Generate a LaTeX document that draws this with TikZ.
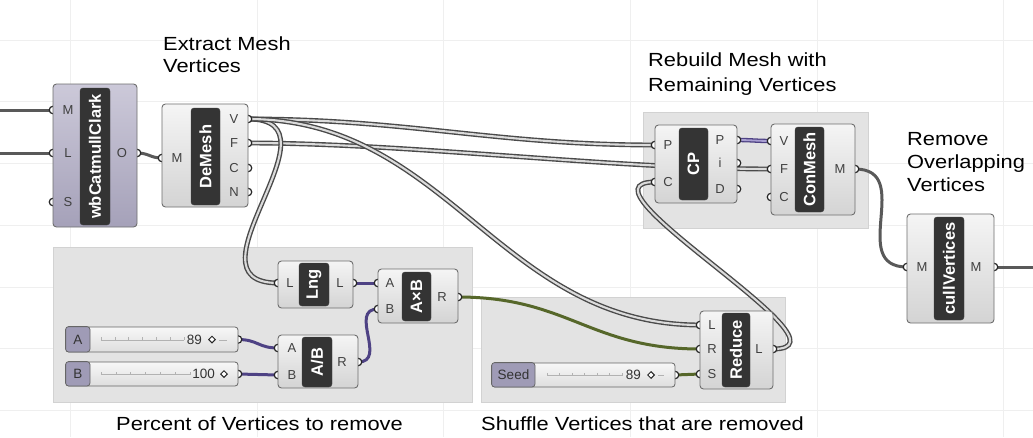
\documentclass[tikz,border=0pt]{standalone}
\usepackage{fontspec}
\setmainfont{Liberation Sans}
\usetikzlibrary{shapes.geometric}
\pgfdeclarelayer{bg}
\pgfdeclarelayer{wires}
\pgfdeclarelayer{ports}
\pgfsetlayers{bg,wires,ports,main}
\definecolor{grpfill}{HTML}{E3E3E3}
\definecolor{grpline}{HTML}{D2D2D2}
\definecolor{gridc}{HTML}{EFEFEF}
\definecolor{barfill}{HTML}{343434}
\definecolor{boxline}{HTML}{6E6E6E}
\definecolor{wbtop}{HTML}{CCC9D9}
\definecolor{wbbot}{HTML}{A5A1B9}
\definecolor{tagc}{HTML}{9F9BB6}
\definecolor{purp}{HTML}{4E4284}
\definecolor{purpl}{HTML}{A99FD2}
\definecolor{olive}{HTML}{56672A}
\definecolor{wiredk}{HTML}{4A4A4A}
\begin{document}
\begin{tikzpicture}[x=1pt,y=-1pt,
  comp/.style={draw=boxline, line width=0.9pt, rounded corners=3.5pt, top color=white!96!black, bottom color=black!17, inner sep=0pt},
  wbcomp/.style={comp, top color=wbtop, bottom color=wbbot},
  bar/.style={fill=barfill, draw=black!75, rounded corners=3pt, inner sep=0pt, text=white, font=\fontsize{16.5}{16.5}\selectfont\bfseries, rotate=90},
  plab/.style={font=\fontsize{13}{13}\selectfont, text=black!75, inner sep=0pt},
  port/.style={circle, draw=black!85, fill=white, line width=1.2pt, inner sep=0pt, minimum size=7.5pt},
  wire/.style={draw=wiredk, double=black!14, line width=1.4pt, double distance=2.1pt},
  pwire/.style={draw=purp, double=purpl, line width=1.3pt, double distance=1.8pt},
  swire/.style={draw=black!65, line width=3pt},
  pswire/.style={draw=purp, line width=3pt},
  gwire/.style={draw=olive, line width=3pt},
  group/.style={fill=grpfill, draw=grpline, line width=0.6pt, inner sep=0pt},
  title/.style={font=\fontsize{19}{22}\selectfont, text=black, inner sep=0pt, anchor=base west},
  slider/.style={draw=black!60, line width=0.8pt, rounded corners=3pt, top color=white!97!black, bottom color=black!13, inner sep=0pt},
  tag/.style={fill=tagc, draw=black!60, line width=0.8pt, rounded corners=3pt},
  stext/.style={font=\fontsize{13.5}{13.5}\selectfont, text=black!80, inner sep=0pt},
  tick/.style={draw=black!30, line width=0.5pt},
  diam/.style={diamond, draw=black!85, line width=1pt, fill=white, inner sep=0pt, minimum size=7pt},
  gridline/.style={draw=gridc, line width=1pt}]

\useasboundingbox (0,0) rectangle (1033,437);

% ---------- background, grid, groups
\begin{pgfonlayer}{bg}
\fill[white] (0,0) rectangle (1033,437);
\foreach \gx in {70,257,443,630,817,1003} \draw[gridline] (\gx,0) -- (\gx,437);
\foreach \gy in {40,101,163,225,287,348,410} \draw[gridline] (0,\gy) -- (1033,\gy);
\node[group, minimum width=419pt, minimum height=155pt] (grpL) at (262.5,324.5) {};
\node[group, minimum width=304pt, minimum height=105pt] (grpS) at (633,349.5) {};
\node[group, minimum width=225pt, minimum height=116pt] (grpCP) at (755.5,170) {};
\end{pgfonlayer}

% ---------- titles
\node[title] (t1a) at (163,50) {\scalebox{1.15}[1]{Extract Mesh}};
\node[title] (t1b) at (163,72) {\scalebox{1.15}[1]{Vertices}};
\node[title] (t2a) at (648,66.5) {\scalebox{1.15}[1]{Rebuild Mesh with}};
\node[title] (t2b) at (648,91.5) {\scalebox{1.15}[1]{Remaining Vertices}};
\node[title] (t3a) at (907,145) {\scalebox{1.15}[1]{Remove}};
\node[title] (t3b) at (907,168) {\scalebox{1.15}[1]{Overlapping}};
\node[title] (t3c) at (907,191) {\scalebox{1.15}[1]{Vertices}};
\node[title] (t4) at (116,430) {\scalebox{1.15}[1]{Percent of Vertices to remove}};
\node[title] (t5) at (481,430) {\scalebox{1.15}[1]{Shuffle Vertices that are removed}};

% ---------- wbCatmullClark
\node[wbcomp, minimum width=84pt, minimum height=143pt] (wb) at (95,155.5) {};
\node[bar, minimum width=137pt, minimum height=30pt] (wbbar) at (95,156.5) {wbCatmullClark};
\node[plab] at (68,110) {M};
\node[plab] at (68,153) {L};
\node[plab] at (68,202) {S};
\node[plab] at (122,153) {O};

% ---------- DeMesh
\node[comp, minimum width=86pt, minimum height=103pt] (de) at (205,155.5) {};
\node[bar, minimum width=97pt, minimum height=29pt] (debar) at (205.5,156.5) {DeMesh};
\node[plab] at (177,158) {M};
\node[plab] at (234,119) {V};
\node[plab] at (234,143) {F};
\node[plab] at (234,168) {C};
\node[plab] at (234,192) {N};

% ---------- CP
\node[comp, minimum width=82pt, minimum height=78pt] (cp) at (696,164) {};
\node[bar, minimum width=72pt, minimum height=29pt] (cpbar) at (693.5,164) {CP};
\node[plab] at (668,145) {P};
\node[plab] at (668,182) {C};
\node[plab] at (720,140) {P};
\node[plab] at (720,163) {i};
\node[plab] at (720,189) {D};

% ---------- ConMesh
\node[comp, minimum width=84pt, minimum height=91pt] (cm) at (813,169.5) {};
\node[bar, minimum width=85pt, minimum height=29pt] (cmbar) at (809.5,169.5) {ConMesh};
\node[plab] at (784,141) {V};
\node[plab] at (784,169) {F};
\node[plab] at (784,197) {C};
\node[plab] at (840,169) {M};

% ---------- cullVertices
\node[comp, minimum width=87pt, minimum height=109pt] (cu) at (950.5,268.5) {};
\node[bar, minimum width=103pt, minimum height=30pt] (cubar) at (949,268.5) {cullVertices};
\node[plab] at (922,267) {M};
\node[plab] at (976,267) {M};

% ---------- Lng
\node[comp, minimum width=75pt, minimum height=47pt] (lng) at (315.5,284.5) {};
\node[bar, minimum width=43pt, minimum height=30pt] (lngbar) at (314,284.5) {Lng};
\node[plab] at (290,283) {L};
\node[plab] at (340,283) {L};

% ---------- AxB
\node[comp, minimum width=80pt, minimum height=54pt] (axb) at (418,296) {};
\node[bar, minimum width=49pt, minimum height=29pt] (axbbar) at (416.5,296.5) {A×B};
\node[plab] at (390,283) {A};
\node[plab] at (390,309) {B};
\node[plab] at (442,297) {R};

% ---------- A/B
\node[comp, minimum width=80pt, minimum height=53pt] (ab) at (318,361.5) {};
\node[bar, minimum width=50pt, minimum height=30pt] (abbar) at (317,362) {A/B};
\node[plab] at (292,348) {A};
\node[plab] at (292,375) {B};
\node[plab] at (342,362) {R};

% ---------- Reduce
\node[comp, minimum width=73pt, minimum height=78pt] (red) at (736.5,350) {};
\node[bar, minimum width=74pt, minimum height=28pt] (redbar) at (736,350) {Reduce};
\node[plab] at (712,325) {L};
\node[plab] at (712,349) {R};
\node[plab] at (712,374) {S};
\node[plab] at (759,349) {L};

% ---------- sliders
\node[slider, minimum width=172pt, minimum height=25pt] (sldA) at (152,339.5) {};
\path[tag] (sldA.north west) rectangle (90,352);
\node[stext] at (78,339.5) {A};
\draw[tick] (101,340) -- (184,340);
\foreach \t in {0,...,6} \draw[tick] (101+\t*13.8,340) -- ++(0,-3);
\node[stext, anchor=east] at (202,339.5) {89};
\node[diam] at (212,339.5) {};
\draw[tick] (219,340) -- (227,340);

\node[slider, minimum width=172pt, minimum height=24pt] (sldB) at (152,374) {};
\path[tag] (sldB.north west) rectangle (90,386);
\node[stext] at (78,374) {B};
\draw[tick] (101,374.5) -- (190,374.5);
\foreach \t in {0,...,6} \draw[tick] (101+\t*14.8,374.5) -- ++(0,-3);
\node[stext, anchor=east] at (215,374) {100};
\node[diam] at (224,374) {};

\node[slider, minimum width=183pt, minimum height=24pt] (sldS) at (583.5,375) {};
\path[tag] (sldS.north west) rectangle (535,387);
\node[stext] at (513.5,375) {Seed};
\draw[tick] (547,375.5) -- (622,375.5);
\foreach \t in {0,...,6} \draw[tick] (547+\t*12.5,375.5) -- ++(0,-3);
\node[stext, anchor=east] at (641,375) {89};
\node[diam] at (651,375) {};
\draw[tick] (658,375.5) -- (664,375.5);

% ---------- ports
\begin{pgfonlayer}{ports}
\node[port] (wbM) at (53,110) {};
\node[port] (wbL) at (53,153) {};
\node[port] (wbS) at (53,202) {};
\node[port] (wbO) at (137,153) {};
\node[port] (deM) at (162,158) {};
\node[port] (deV) at (248,119) {};
\node[port] (deF) at (248,143) {};
\node[port] (deC) at (248,168) {};
\node[port] (deN) at (248,192) {};
\node[port] (cpP) at (655,145) {};
\node[port] (cpC) at (655,182) {};
\node[port] (cpPo) at (737,140) {};
\node[port] (cpI) at (737,163) {};
\node[port] (cpD) at (737,189) {};
\node[port] (cmV) at (771,141) {};
\node[port] (cmF) at (771,169) {};
\node[port] (cmC) at (771,197) {};
\node[port] (cmM) at (855,169) {};
\node[port] (cuM) at (907,267) {};
\node[port] (cuO) at (994,267) {};
\node[port] (lngL) at (278,283) {};
\node[port] (lngO) at (353,283) {};
\node[port] (axbA) at (378,283) {};
\node[port] (axbB) at (378,309) {};
\node[port] (axbR) at (458,297) {};
\node[port] (abA) at (278,348) {};
\node[port] (abB) at (278,375) {};
\node[port] (abR) at (358,362) {};
\node[port] (redL) at (700,325) {};
\node[port] (redR) at (700,349) {};
\node[port] (redS) at (700,374) {};
\node[port] (redO) at (773,349) {};
\node[port] (sldAO) at (238,339.5) {};
\node[port] (sldBO) at (238,374) {};
\node[port] (seedO) at (675,375) {};
\end{pgfonlayer}

\coordinate (inM) at (0,110);
\coordinate (inL) at (0,153);
\coordinate (outR) at (1033,267);

% ---------- wires
\begin{pgfonlayer}{wires}
\draw[swire] (inM) -- (wbM.center);
\draw[swire] (inL) -- (wbL.center);
\draw[swire] (wbO.center) .. controls +(12,0) and +(-12,0) .. (deM.center);
\draw[wire] (deF.center) .. controls +(160,0) and +(-160,0) .. (cmF.center);
\draw[wire] (deV.center) .. controls +(160,0) and +(-160,0) .. (cpP.center);
\draw[wire] (deV.center) .. controls +(100,0) and +(-100,0) .. (lngL.center);
\draw[wire] (deV.center) .. controls +(200,0) and +(-200,0) .. (redL.center);
\draw[wire] (redO.center) .. controls +(90,0) and +(-90,0) .. (cpC.center);
\draw[gwire] (axbR.center) .. controls +(110,0) and +(-110,0) .. (redR.center);
\draw[gwire] (seedO.center) -- (redS.center);
\draw[pswire] (sldAO.center) .. controls +(20,0) and +(-20,0) .. (abA.center);
\draw[pswire] (sldBO.center) .. controls +(20,0) and +(-20,0) .. (abB.center);
\draw[pswire] (abR.center) .. controls +(30,0) and +(-30,0) .. (axbB.center);
\draw[pswire] (lngO.center) -- (axbA.center);
\draw[pwire] (cpPo.center) .. controls +(15,0) and +(-15,0) .. (cmV.center);
\draw[swire] (cmM.center) .. controls +(60,0) and +(-60,0) .. (cuM.center);
\draw[swire] (cuO.center) -- (outR);
\end{pgfonlayer}
\end{tikzpicture}
\end{document}
